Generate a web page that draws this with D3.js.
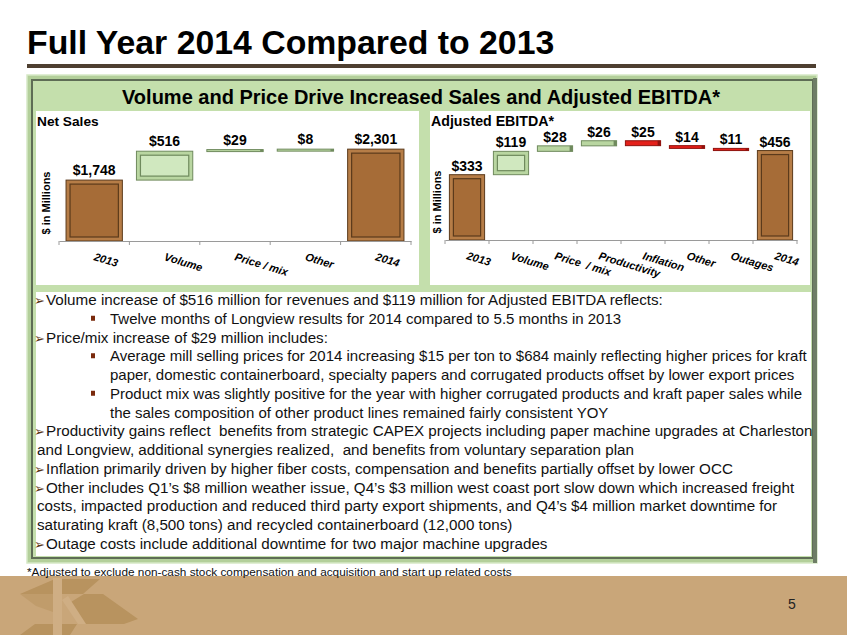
<!DOCTYPE html>
<html>
<head>
<meta charset="utf-8">
<script src="https://cdn.jsdelivr.net/npm/d3@7"></script>
<style>
  body { margin: 0; background: #fff; }
  svg { display: block; }
  .arial { font-family: "Liberation Sans", Arial, sans-serif; }
</style>
</head>
<body>
<script>
"use strict";

// net sales bridge
var salesCats = ["2013", "Volume", "Price / mix", "Other", "2014"];
var salesVals = [1748, 516, 29, 8, 2301];
var salesKind = ["total", "step", "step", "step", "total"];

// adjusted EBITDA bridge
var ebitdaCats = ["2013", "Volume", "Price  / mix", "Productivity", "Inflation", "Other", "Outages", "2014"];
var ebitdaVals = [333, 119, 28, 26, -25, -14, -11, 456];
var ebitdaKind = ["total", "step", "step", "step", "step", "step", "step", "total"];

// commentary lines: a = arrow bullet, s = square bullet, sc = continued square, ac = continued arrow
var notes = [
  ["a", "Volume increase of $516 million for revenues and $119 million for Adjusted EBITDA reflects:"],
  ["s", "Twelve months of Longview results for 2014 compared to 5.5 months in 2013"],
  ["a", "Price/mix increase of $29 million includes:"],
  ["s", "Average mill selling prices for 2014 increasing $15 per ton to $684 mainly reflecting higher prices for kraft"],
  ["sc", "paper, domestic containerboard, specialty papers and corrugated products offset by lower export prices"],
  ["s", "Product mix was slightly positive for the year with higher corrugated products and kraft paper sales while"],
  ["sc", "the sales composition of other product lines remained fairly consistent YOY"],
  ["a", "Productivity gains reflect  benefits from strategic CAPEX projects including paper machine upgrades at Charleston"],
  ["ac", "and Longview, additional synergies realized,  and benefits from voluntary separation plan"],
  ["a", "Inflation primarily driven by higher fiber costs, compensation and benefits partially offset by lower OCC"],
  ["a", "Other includes Q1\u2019s $8 million weather issue, Q4\u2019s $3 million west coast port slow down which increased freight"],
  ["ac", "costs, impacted production and reduced third party export shipments, and Q4\u2019s $4 million market downtime for"],
  ["ac", "saturating kraft (8,500 tons) and recycled containerboard (12,000 tons)"],
  ["a", "Outage costs include additional downtime for two major machine upgrades"]
];

var W = 847, H = 635;
var svg = d3.select("body").append("svg").attr("width", W).attr("height", H);

// ---------- page chrome ----------
svg.append("text").attr("class", "arial")
  .attr("x", 27).attr("y", 54)
  .style("font-size", "33.8px").style("font-weight", "bold")
  .text("Full Year 2014 Compared to 2013");

svg.append("rect").attr("x", 27).attr("y", 64).attr("width", 789).attr("height", 4).attr("fill", "#4e3f31");

// green framed panel
svg.append("rect").attr("x", 27).attr("y", 75).attr("width", 790).attr("height", 488).attr("fill", "#b3cf9a");
svg.append("rect").attr("x", 27).attr("y", 75).attr("width", 790).attr("height", 488)
  .attr("fill", "none").attr("stroke", "#d6e9c6").attr("stroke-width", 1.5);
svg.append("rect").attr("x", 32).attr("y", 80).attr("width", 781).attr("height", 478)
  .attr("fill", "#c4dfac").attr("stroke", "#5e6d55").attr("stroke-width", 2);
// right shadow of the frame
svg.append("rect").attr("x", 813).attr("y", 78).attr("width", 4).attr("height", 485).attr("fill", "#6e7d66");

svg.append("text").attr("class", "arial")
  .attr("x", 421).attr("y", 104).attr("text-anchor", "middle")
  .style("font-size", "20px").style("font-weight", "bold")
  .text("Volume and Price Drive Increased Sales and Adjusted EBITDA*");

// white areas
svg.append("rect").attr("x", 36).attr("y", 111).attr("width", 383).attr("height", 174).attr("fill", "#fff");
svg.append("rect").attr("x", 430).attr("y", 111).attr("width", 380).attr("height", 174).attr("fill", "#fff");
svg.append("rect").attr("x", 36).attr("y", 292).attr("width", 775).attr("height", 264).attr("fill", "#fff");

// footer band and logo
svg.append("rect").attr("x", 0).attr("y", 576).attr("width", W).attr("height", H - 576).attr("fill", "#c9a679");
var logo = svg.append("g").attr("fill", "#b8935f");
logo.append("polygon").attr("points", "55,579 100,579 83,594 20,594");
logo.append("polygon").attr("points", "84,594 103,594 138,619 124,624 79,624 66,605");
logo.append("polygon").attr("points", "35,624 77,624 70,635 20,635");
logo.append("polygon").attr("points", "20,594 53,594 53,612 36,606").attr("fill", "#c09c6b");
var light = svg.append("g").attr("fill", "#cfae84");
light.append("polygon").attr("points", "53,578 62,578 62,635 53,635");
light.append("polygon").attr("points", "62,600 68,596 86,624 78,624");

svg.append("text").attr("class", "arial")
  .attr("x", 27).attr("y", 576)
  .style("font-size", "11.8px").attr("fill", "#111")
  .text("*Adjusted to exclude non-cash stock compensation and acquisition and start up related costs");

svg.append("text").attr("class", "arial")
  .attr("x", 792).attr("y", 609).attr("text-anchor", "middle")
  .style("font-size", "14px").attr("fill", "#222")
  .text("5");

// ---------- waterfall helper ----------
function waterfall(opt) {
  var g = svg.append("g");
  var cats = opt.cats, vals = opt.vals, kind = opt.kind;

  var x = d3.scaleBand().domain(cats).range([opt.x0, opt.x1]).paddingInner(0.2).paddingOuter(0.1);
  var y = d3.scaleLinear().domain(opt.domain).range([opt.base, opt.top]);

  // running totals
  var run = 0;
  var bars = cats.map(function(c, i) {
    var v = vals[i], lo, hi;
    if (kind[i] === "total") { lo = opt.domain[0]; hi = v; run = v; }
    else { lo = Math.min(run, run + v); hi = Math.max(run, run + v); run += v; }
    return { cat: c, v: v, lo: lo, hi: hi, kind: kind[i] };
  });

  bars.forEach(function(b) {
    var bx = x(b.cat), bw = x.bandwidth();
    var yt = y(b.hi), h = Math.max(y(b.lo) - y(b.hi), 2);
    var outer, inner, edge;
    if (b.kind === "total") { outer = "#b67d47"; inner = "#a66c37"; edge = "#5b3a1b"; }
    else if (b.v > 0) { outer = "#b9d6a1"; inner = "#d0e8bf"; edge = "#6f8a5d"; }
    else { outer = "#e4201a"; inner = "#ee2a22"; edge = "#8f120e"; }
    g.append("rect").attr("x", bx).attr("y", yt).attr("width", bw).attr("height", h)
      .attr("fill", outer).attr("stroke", edge).attr("stroke-width", 1);
    if (h > 12) {
      g.append("rect").attr("x", bx + 4).attr("y", yt + 4).attr("width", bw - 8).attr("height", h - 8)
        .attr("fill", inner).attr("stroke", edge).attr("stroke-width", 1.2);
    } else {
      g.append("rect").attr("x", bx + bw - 3).attr("y", yt).attr("width", 3).attr("height", h).attr("fill", edge);
    }
    g.append("text").attr("class", "arial")
      .attr("x", bx + bw / 2).attr("y", yt - opt.lift).attr("text-anchor", "middle")
      .style("font-size", opt.labelSize + "px").style("font-weight", "bold")
      .text("$" + d3.format(",")(Math.abs(b.v)));
  });

  // category axis
  var axis = g.append("g").attr("transform", "translate(0," + opt.base + ")")
    .call(d3.axisBottom(x).tickSize(0).tickFormat(""));
  axis.select(".domain").attr("stroke", "#9a9a9a");
  var step = x.step();
  var edges = d3.range(cats.length + 1).map(function(i) { return opt.x0 + i * step; });
  g.selectAll(".edge").data(edges).enter().append("line")
    .attr("x1", function(d) { return d; }).attr("x2", function(d) { return d; })
    .attr("y1", opt.base).attr("y2", opt.base + 4).attr("stroke", "#9a9a9a");

  g.selectAll(".cat").data(cats).enter().append("text").attr("class", "arial")
    .attr("transform", function(d) { return "translate(" + (x(d) + x.bandwidth() / 2 - 1) + "," + (opt.base + 19) + ") rotate(17)"; })
    .style("font-size", "11px").style("font-weight", "bold").style("font-style", "italic")
    .style("white-space", "pre")
    .text(function(d) { return d; });

  g.append("text").attr("class", "arial")
    .attr("transform", "translate(" + opt.yLabelX + "," + (opt.base - 38) + ") rotate(-90)")
    .attr("text-anchor", "middle")
    .style("font-size", "11px").style("font-weight", "bold")
    .text("$ in Millions");

  g.append("text").attr("class", "arial")
    .attr("x", opt.titleX).attr("y", 126)
    .style("font-size", opt.titleSize + "px").style("font-weight", "bold")
    .text(opt.title);
}

waterfall({
  cats: salesCats, vals: salesVals, kind: salesKind,
  x0: 59, x1: 411, base: 241, top: 138, domain: [660, 2500],
  lift: 5, labelSize: 14, yLabelX: 50, titleX: 37, title: "Net Sales", titleSize: 13.7
});

waterfall({
  cats: ebitdaCats, vals: ebitdaVals, kind: ebitdaKind,
  x0: 445, x1: 797, base: 240, top: 138, domain: [0, 520],
  lift: 4, labelSize: 14, yLabelX: 441, titleX: 431, title: "Adjusted EBITDA*", titleSize: 14.2
});

// ---------- commentary ----------
var tg = svg.append("g").attr("class", "arial").attr("fill", "#111");
notes.forEach(function(n, i) {
  var yy = 305 + i * 18.75;
  var kind = n[0];
  if (kind === "a") {
    tg.append("text").attr("x", 34).attr("y", yy)
      .style("font-family", "DejaVu Sans").style("font-size", "13px").attr("fill", "#5a3412")
      .text("\u27A2");
  }
  if (kind === "s") {
    tg.append("rect").attr("x", 91).attr("y", yy - 8).attr("width", 4).attr("height", 5).attr("fill", "#7a2a0c");
  }
  var tx = kind === "a" ? 46 : (kind === "ac" ? 37 : 110);
  var fs = (kind === "s" || kind === "sc") ? 15.0 : 15.2;
  tg.append("text").attr("x", tx).attr("y", yy)
    .style("font-size", fs + "px").style("white-space", "pre").text(n[1]);
});
</script>
</body>
</html>
